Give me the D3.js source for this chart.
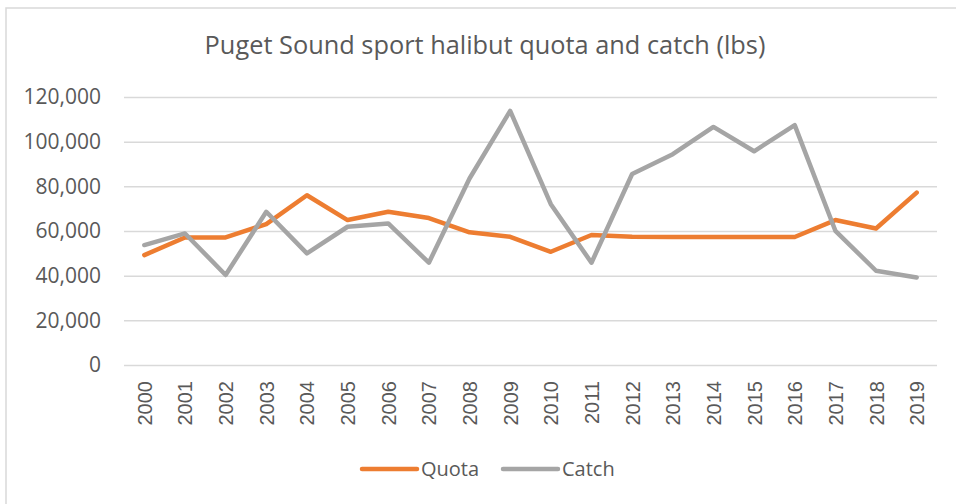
<!DOCTYPE html>
<html lang="en">
<head>
<meta charset="UTF-8">
<title>Puget Sound sport halibut quota and catch</title>
<script src="https://d3js.org/d3.v7.min.js"></script>
<style>
  body { margin: 0; background: #fff; }
  text { fill: #595959; }
</style>
</head>
<body>
<div id="chart"></div>
<script>
// values
var years = ["2000","2001","2002","2003","2004","2005","2006","2007","2008","2009",
             "2010","2011","2012","2013","2014","2015","2016","2017","2018","2019"];
var quota = [49200, 57100, 57100, 63100, 76000, 64900, 68600, 65800, 59400, 57400,
             50700, 58200, 57400, 57300, 57300, 57300, 57300, 64900, 61100, 77200];
var caught = [53700, 58900, 40300, 68600, 50000, 61900, 63400, 45800, 83500, 113800,
              72000, 45800, 85500, 94400, 106600, 95700, 107400, 60100, 42200, 39200];
var yTicks = [0, 20000, 40000, 60000, 80000, 100000, 120000];
var seriesNames = ["Quota", "Catch"];
var seriesColors = ["#ED7D31", "#A5A5A5"];

var W = 956, H = 504;
var plot = {left: 124, right: 937, top: 97, bottom: 365};

var svg = d3.select("#chart").append("svg")
    .attr("width", W).attr("height", H);

// chart frame
svg.append("rect")
    .attr("x", 6).attr("y", 8)
    .attr("width", W + 10).attr("height", H + 10)
    .attr("fill", "none")
    .attr("stroke", "#D9D9D9")
    .attr("stroke-width", 1.5);

// title, sized to span the same width as the original
var title = svg.append("text")
    .attr("x", 485).attr("y", 54)
    .attr("text-anchor", "middle")
    .style("font-family", "'Open Sans', sans-serif")
    .style("font-size", "23px")
    .text("Puget Sound sport halibut quota and catch (lbs)");
var tw = title.node().getComputedTextLength();
title.style("font-size", (23 * 561 / tw) + "px");

var x = d3.scalePoint()
    .domain(years)
    .range([plot.left, plot.right])
    .padding(0.5);

var y = d3.scaleLinear()
    .domain([0, 120000])
    .range([plot.bottom, plot.top]);

// gridlines + y labels
var yAxis = svg.append("g")
    .attr("transform", "translate(" + plot.left + ",0)")
    .call(d3.axisLeft(y).tickValues(yTicks)
        .tickSize(-(plot.right - plot.left))
        .tickPadding(23)
        .tickFormat(d3.format(",")));
yAxis.select(".domain").remove();
yAxis.selectAll(".tick line")
    .attr("stroke", "#D9D9D9")
    .attr("stroke-width", 1.5);
yAxis.selectAll(".tick text")
    .style("font-family", "'Open Sans', sans-serif")
    .style("font-size", "21px")
    .attr("fill", "#595959");

// x labels, rotated
var xAxis = svg.append("g")
    .attr("transform", "translate(0," + plot.bottom + ")")
    .call(d3.axisBottom(x).tickSize(0).tickPadding(0));
xAxis.select(".domain").remove();
xAxis.selectAll(".tick text")
    .style("font-family", "'Liberation Sans', Arial, sans-serif")
    .style("font-size", "20px")
    .attr("fill", "#595959")
    .attr("transform", "rotate(-90)")
    .attr("x", -16)
    .attr("y", 0)
    .attr("dy", "0.35em")
    .style("text-anchor", "end");

// lines
var line = d3.line()
    .x(function(d, i) { return x(years[i]); })
    .y(function(d) { return y(d); });

[quota, caught].forEach(function(vals, k) {
  svg.append("path")
      .datum(vals)
      .attr("fill", "none")
      .attr("stroke", seriesColors[k])
      .attr("stroke-width", 4.5)
      .attr("stroke-linejoin", "round")
      .attr("stroke-linecap", "round")
      .attr("d", line);
});

// legend
var legendX = [362, 503];
seriesNames.forEach(function(name, k) {
  var g = svg.append("g").attr("transform", "translate(" + legendX[k] + ",469)");
  g.append("line")
      .attr("x1", 0).attr("x2", 55)
      .attr("stroke", seriesColors[k])
      .attr("stroke-width", 4.5)
      .attr("stroke-linecap", "round");
  g.append("text")
      .attr("x", 59).attr("y", 0)
      .attr("dy", "0.35em")
      .style("font-family", "'Open Sans', sans-serif")
      .style("font-size", "20px")
      .text(name);
});
</script>
</body>
</html>
